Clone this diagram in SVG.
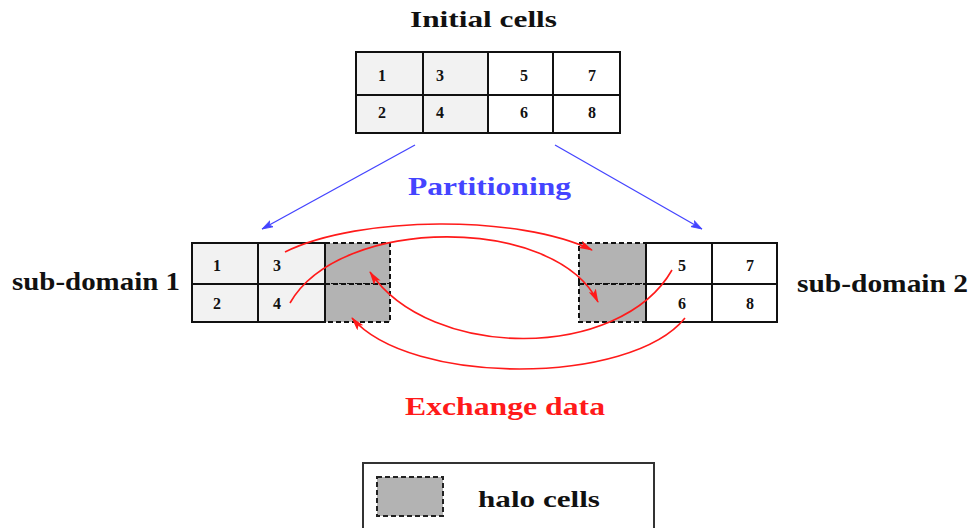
<svg xmlns="http://www.w3.org/2000/svg" width="970" height="528" viewBox="0 0 970 528">
<style>
  .t{font-family:"Liberation Serif","Times New Roman",serif;font-weight:bold}
  .num{font-family:"Liberation Serif","Times New Roman",serif;font-weight:bold;font-size:16px;text-anchor:middle;fill:#111}
  .cell{stroke:#111;stroke-width:2}
  .own{fill:#f2f2f2}
  .wht{fill:#ffffff}
  .halo{fill:#b3b3b3;stroke:#111;stroke-width:2;stroke-dasharray:5,3}
  .red{fill:none;stroke:#ff1a1a;stroke-width:1.6}
  .blue{fill:none;stroke:#4444ff;stroke-width:1.3}
</style>
<defs>
  <marker id="ra" viewBox="0 0 14 8" refX="13" refY="4" markerWidth="14" markerHeight="8" markerUnits="userSpaceOnUse" orient="auto">
    <path d="M0,0 L14,4 L0,8 L3,4 Z" fill="#ff1a1a"/>
  </marker>
  <marker id="ba" viewBox="0 0 12 8" refX="11" refY="4" markerWidth="12" markerHeight="8" markerUnits="userSpaceOnUse" orient="auto">
    <path d="M0,0.5 L11,4 L0,7.5 L3,4 Z" fill="#4444ff" stroke="#4444ff" stroke-width="0.8"/>
  </marker>
</defs>
<rect width="970" height="528" fill="#ffffff"/>

<g id="initial">
  <text class="t" x="410" y="27" font-size="24" textLength="147" lengthAdjust="spacingAndGlyphs" fill="#111">Initial cells</text>
  <rect class="cell own" x="356" y="52" width="67" height="43"/>
  <rect class="cell own" x="423" y="52" width="65" height="43"/>
  <rect class="cell wht" x="488" y="52" width="65" height="43"/>
  <rect class="cell wht" x="553" y="52" width="67" height="43"/>
  <rect class="cell own" x="356" y="95" width="67" height="38"/>
  <rect class="cell own" x="423" y="95" width="65" height="38"/>
  <rect class="cell wht" x="488" y="95" width="65" height="38"/>
  <rect class="cell wht" x="553" y="95" width="67" height="38"/>
  <text class="num" x="382" y="81">1</text>
  <text class="num" x="440" y="81">3</text>
  <text class="num" x="524" y="81">5</text>
  <text class="num" x="592" y="81">7</text>
  <text class="num" x="382" y="118">2</text>
  <text class="num" x="440" y="118">4</text>
  <text class="num" x="524" y="118">6</text>
  <text class="num" x="592" y="118">8</text>
</g>

<g id="subdomain1">
  <text class="t" x="12" y="290" font-size="26" textLength="168" lengthAdjust="spacingAndGlyphs" fill="#111">sub-domain 1</text>
  <rect class="halo" x="325" y="243" width="65" height="41"/>
  <rect class="halo" x="325" y="284" width="65" height="38"/>
  <rect class="cell own" x="192" y="243" width="66" height="41"/>
  <rect class="cell own" x="258" y="243" width="67" height="41"/>
  <rect class="cell own" x="192" y="284" width="66" height="38"/>
  <rect class="cell own" x="258" y="284" width="67" height="38"/>
  <text class="num" x="217" y="271">1</text>
  <text class="num" x="277" y="271">3</text>
  <text class="num" x="217" y="309">2</text>
  <text class="num" x="277" y="309">4</text>
</g>

<g id="subdomain2">
  <text class="t" x="797" y="292" font-size="26" textLength="171" lengthAdjust="spacingAndGlyphs" fill="#111">sub-domain 2</text>
  <rect class="halo" x="579" y="243" width="67" height="41"/>
  <rect class="halo" x="579" y="284" width="67" height="38"/>
  <rect class="cell wht" x="646" y="243" width="66" height="41"/>
  <rect class="cell wht" x="712" y="243" width="65" height="41"/>
  <rect class="cell wht" x="646" y="284" width="66" height="38"/>
  <rect class="cell wht" x="712" y="284" width="65" height="38"/>
  <text class="num" x="682" y="271">5</text>
  <text class="num" x="750" y="271">7</text>
  <text class="num" x="682" y="309">6</text>
  <text class="num" x="750" y="309">8</text>
</g>

<g id="connectors">
  <line class="blue" x1="415" y1="145" x2="262" y2="229" marker-end="url(#ba)"/>
  <line class="blue" x1="555" y1="145" x2="702" y2="229" marker-end="url(#ba)"/>
  <path class="red" d="M285,252 C360,215 520,215 592,250" marker-end="url(#ra)"/>
  <path class="red" d="M290,303 C340,215 555,215 598,302" marker-end="url(#ra)"/>
  <path class="red" d="M672,270 C620,361 430,361 370,272" marker-end="url(#ra)"/>
  <path class="red" d="M685,318 C630,386 410,386 352,318" marker-end="url(#ra)"/>
</g>

<g id="labels">
  <text class="t" x="408" y="195" font-size="25" textLength="163" lengthAdjust="spacingAndGlyphs" fill="#4444ff">Partitioning</text>
  <text class="t" x="405" y="415" font-size="25" textLength="200" lengthAdjust="spacingAndGlyphs" fill="#ff1a1a">Exchange data</text>
</g>

<g id="legend">
  <rect x="363" y="463" width="291" height="80" fill="#ffffff" stroke="#333" stroke-width="2"/>
  <rect x="377" y="477" width="66" height="39" fill="#b3b3b3" stroke="#222" stroke-width="2" stroke-dasharray="5,3"/>
  <text class="t" x="478" y="507" font-size="24" textLength="122" lengthAdjust="spacingAndGlyphs" fill="#111">halo cells</text>
</g>
</svg>
